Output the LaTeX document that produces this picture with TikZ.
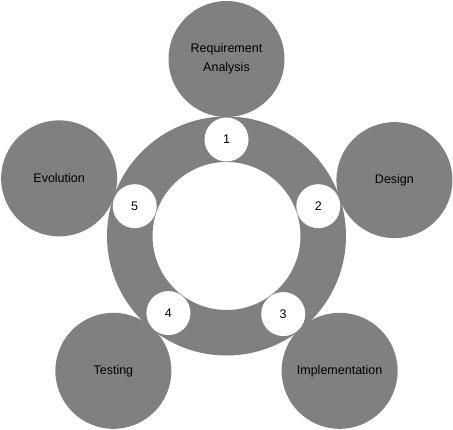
\documentclass[tikz,border=0pt]{standalone}
\usepackage{fontspec}
\setmainfont{Liberation Sans}
\usepackage{xcolor}
\usepackage{tikz}
\usetikzlibrary{positioning}

\begin{document}
\begin{tikzpicture}[
  x=1pt, y=1pt,
  phase/.style={circle, fill=gray, minimum size=116pt, inner sep=0pt, align=center, font=\fontsize{12.5}{19}\selectfont},
  num/.style={circle, fill=white, minimum size=44pt, inner sep=0pt, font=\fontsize{12.5}{15}\selectfont}
]
\useasboundingbox (0,0) rectangle (453,430);
\begin{scope}[shift={(226.5,194)}]
% the ring
\fill[gray, even odd rule] (0,0) circle[radius=119.5pt] (0,0) circle[radius=74pt];
\node[phase] (req)  at (90:177)   {Requirement\\Analysis};
\node[phase] (des)  at (18.4:177) {Design};
\node[phase] (impl) at (-50:176)  {Implementation};
\node[phase] (test) at (-130:176) {Testing};
\node[phase] (evo)  at (161:177)  {Evolution};
\node[num] (n1) at (90:96.5)   {1};
\node[num] (n2) at (18:96.5)   {2};
\node[num] (n3) at (-54:96.5)  {3};
\node[num] (n4) at (-127:96.5) {4};
\node[num] (n5) at (162:96.5)  {5};
\end{scope}
\end{tikzpicture}
\end{document}
